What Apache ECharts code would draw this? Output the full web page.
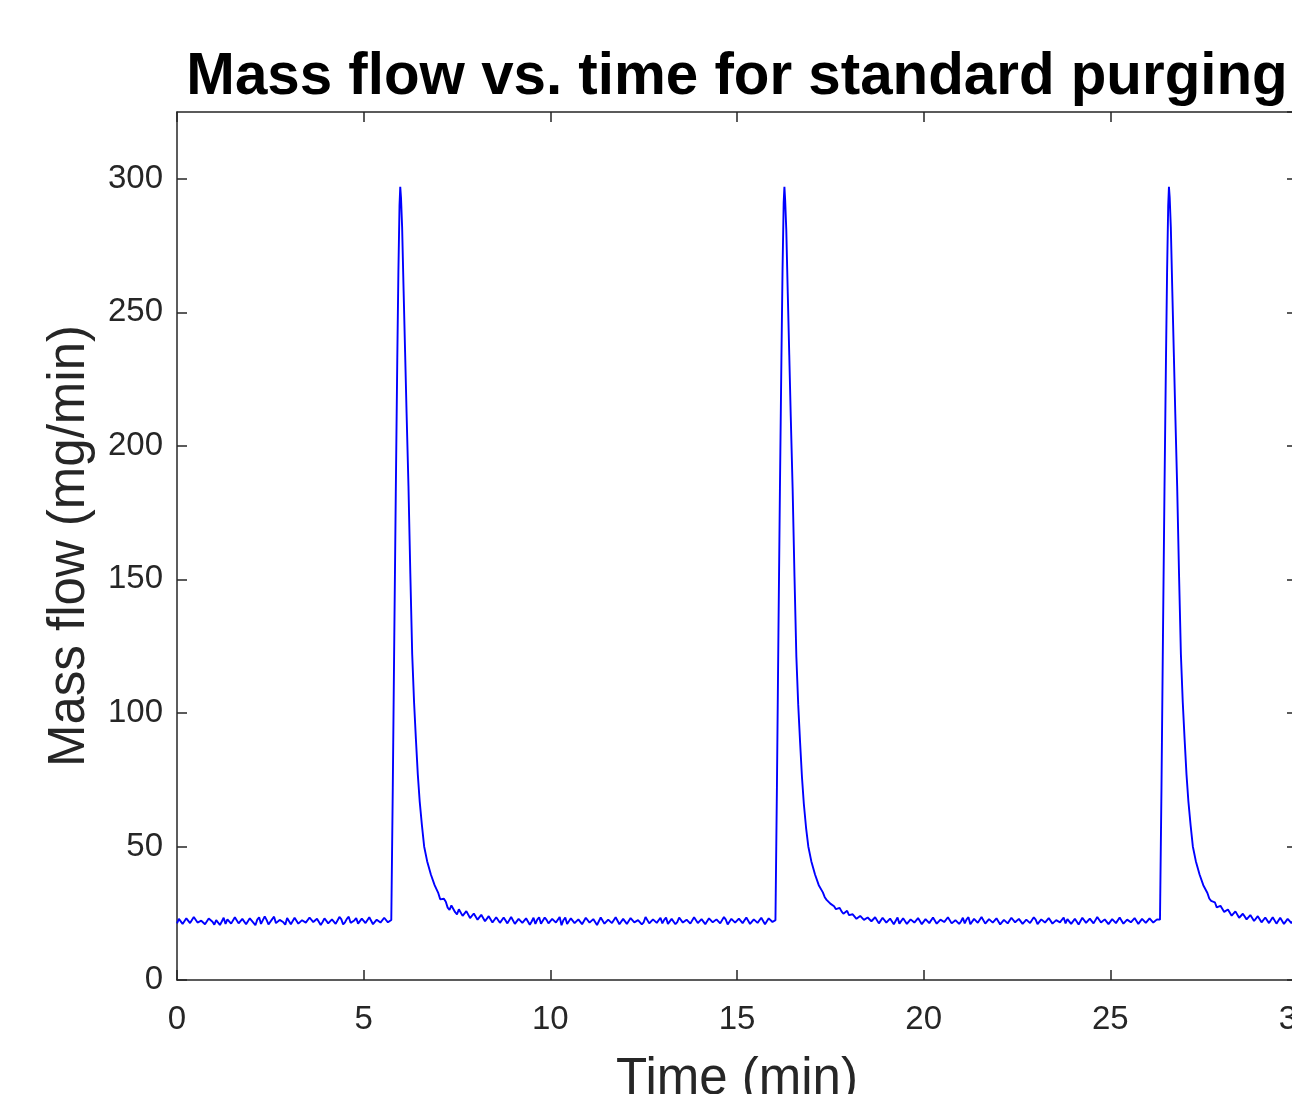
<!DOCTYPE html>
<html>
<head>
<meta charset="utf-8">
<title>Mass flow vs. time</title>
<script src="https://cdn.jsdelivr.net/npm/echarts@6/dist/echarts.min.js"></script>
<style>
  html, body { margin: 0; padding: 0; background: #fff; }
  #chart { width: 1292px; height: 1094px; }
</style>
</head>
<body>
<div id="chart"></div>
<script>
// baseline segments are sampled every 0.05 min from their start time
const sampleStep = 0.05

const base0Start = 0
const base0Flow = [
  21.2, 22.9, 23.4, 21.0, 20.5, 23.1, 22.8, 21.3, 21.7, 23.6, 23.7, 21.5, 20.8, 22.2, 22.5, 20.9,
  21.4, 23.0, 23.5, 21.8, 20.7, 22.4, 23.0, 20.6, 21.9, 23.3, 21.0, 22.7, 23.4, 21.1, 21.6, 23.5,
  23.9, 21.2, 20.8, 22.9, 22.6, 20.9, 21.2, 23.1, 23.2, 21.4, 20.5, 22.6, 23.5, 21.0, 21.7, 23.8,
  22.5, 20.8, 21.0, 22.8, 23.7, 21.3, 21.4, 22.5, 23.0, 21.6, 20.7, 23.2, 22.8, 20.9, 21.6, 23.3,
  23.5, 21.1, 20.8, 22.4, 22.3, 21.5, 21.4, 23.4, 23.9, 21.7, 21.0, 22.9, 23.0, 20.6, 21.7, 23.1,
  22.6, 21.2, 20.7, 22.7, 23.4, 21.0, 21.2, 23.6, 22.8, 20.8, 21.6, 22.9, 23.7, 21.4, 21.0, 22.3,
  23.2, 21.1, 20.8, 23.0, 22.5, 21.3, 21.7, 23.5, 23.4, 20.9, 21.2, 22.6, 22.8, 21.5, 21.4, 23.3,
  23.7, 21.6, 21.9
]

const peak1Time = [5.74, 5.78, 5.82, 5.86, 5.90, 5.93, 5.96, 5.98, 6.00, 6.03, 6.07, 6.11, 6.15, 6.20, 6.25, 6.30, 6.35, 6.40, 6.45, 6.50, 6.56, 6.62, 6.70, 6.80, 6.90]
const peak1Flow = [22.5, 72, 128, 182, 232, 265, 290, 297, 293, 282, 258, 235, 212, 185, 152, 122, 104, 90, 77, 67, 58, 50, 44.5, 39.5, 35.5]

const tail1Start = 7.0
const tail1Flow = [
  32.5, 30.2, 29.5, 30.4, 29.3, 27.1, 26.3, 27.9, 27.6, 25.4, 24.6, 26.5, 26.2, 24.0, 23.3, 25.8,
  25.5, 23.2, 22.7, 24.9, 24.7, 22.6, 22.1, 24.4, 24.3, 22.0, 21.7, 23.9, 23.9, 21.5, 21.3, 23.5,
  23.6, 21.4, 21.1, 23.4, 23.3, 21.2, 20.9, 23.6, 23.3, 21.0,
  21.2, 22.9, 23.2, 21.4, 20.8, 23.1, 22.6, 20.7, 21.9, 23.3, 21.0, 22.6, 23.5, 21.1, 21.6, 23.4,
  22.5, 21.2, 20.8, 22.9, 23.0, 21.5, 21.7, 23.6, 20.5, 22.4, 23.4, 21.0, 21.4, 23.1, 22.8, 21.3,
  20.8, 22.7, 22.3, 20.9, 21.6, 23.3, 23.7, 21.5, 21.0, 22.8, 22.5, 20.6, 21.2, 23.4, 23.2, 21.1,
  20.7, 22.6, 22.1, 21.3, 21.7, 23.5, 23.0, 20.9, 20.8, 22.9, 22.6, 21.0, 21.4, 23.2, 23.5, 21.6,
  21.0, 22.4, 22.3, 20.8, 21.6, 23.6, 23.0, 21.2, 20.7, 22.7, 22.8, 21.4, 21.9, 23.3, 21.2, 22.5,
  23.4, 21.0, 21.0, 22.9, 22.5, 20.9, 21.7, 23.4, 23.2, 21.5, 20.8, 22.6, 22.8, 21.1, 21.4, 23.5,
  23.5, 21.3, 21.2, 22.8, 22.6, 20.9, 21.6, 23.1, 23.7, 21.6, 21.0, 22.7, 23.0, 21.2, 21.7, 23.6,
  22.6, 20.8, 21.2, 22.9, 23.4, 21.5, 21.4, 23.0, 22.8, 21.3, 21.7, 23.4, 23.7, 21.0, 21.2, 22.7,
  23.2, 21.4, 21.6, 23.3, 22.6, 20.9, 21.4, 23.1, 23.5, 21.7, 22.1
]

const peak2Time = [16.03, 16.07, 16.11, 16.15, 16.19, 16.22, 16.25, 16.27, 16.29, 16.32, 16.36, 16.40, 16.44, 16.49, 16.54, 16.59, 16.64, 16.69, 16.74, 16.79, 16.85, 16.91, 16.99, 17.09, 17.19]
const peak2Flow = [22.4, 73, 130, 184, 233, 266, 291, 297, 292, 281, 257, 234, 211, 184, 151, 121, 103, 89, 76, 66, 57, 50, 44.5, 39.5, 35.5]

const tail2Start = 17.3
const tail2Flow = [
  32.8, 31.0, 30.0, 29.7, 28.6, 28.4, 27.6, 26.5, 26.6, 27.0, 25.7, 24.8, 25.3, 25.9, 24.3, 23.6,
  24.6, 24.9, 22.9, 23.3, 24.0, 24.3, 22.5, 22.0, 23.4, 23.8, 22.0, 21.6, 23.5, 23.2, 21.2, 21.9,
  23.3, 23.6, 21.5, 21.3, 23.0, 23.3, 20.9, 21.5, 23.4, 21.1,
  21.4, 23.1, 22.8, 21.0, 20.8, 22.7, 23.4, 21.5, 21.7, 23.2, 22.5, 20.9, 21.0, 22.8, 23.0, 21.3,
  21.6, 23.4, 23.7, 21.1, 20.8, 22.6, 22.3, 21.7, 21.4, 23.5, 23.2, 21.2, 20.7, 22.4, 22.8, 21.0,
  21.9, 23.3, 21.2, 22.7, 23.5, 20.9, 21.0, 22.9, 22.5, 21.4, 21.6, 23.6, 23.0, 21.1, 20.8, 22.8,
  22.6, 21.5, 21.7, 23.1, 23.4, 20.8, 21.0, 22.5, 22.3, 21.2, 21.4, 23.3, 23.7, 21.6, 21.2, 22.9,
  22.8, 21.0, 20.7, 22.6, 23.2, 21.3, 21.7, 23.5, 22.6, 20.9, 21.0, 22.7, 23.4, 21.5, 21.4, 23.2,
  22.5, 21.1, 20.8, 22.4, 23.0, 21.6, 21.9, 23.4, 21.2, 22.8, 23.5, 21.0, 21.6, 22.9, 22.6, 20.8,
  21.0, 23.3, 23.2, 21.4, 21.2, 23.0, 22.8, 21.2, 21.7, 23.6, 23.9, 21.5, 21.4, 22.7, 23.0, 20.9,
  21.0, 22.8, 22.6, 21.3, 21.7, 23.4, 23.4, 21.1, 21.2, 22.6, 22.8, 21.6, 21.6, 23.2, 23.5, 21.0,
  21.4, 22.9, 22.6, 21.4, 21.7, 23.1, 23.4, 21.5, 21.2, 22.7, 22.3
]

const peak3Time = [26.33, 26.37, 26.41, 26.45, 26.49, 26.52, 26.55, 26.57, 26.59, 26.62, 26.66, 26.70, 26.74, 26.79, 26.84, 26.89, 26.94, 26.99, 27.04, 27.09, 27.15, 27.21, 27.29, 27.39, 27.49]
const peak3Flow = [22.6, 72, 129, 183, 232, 265, 290, 297, 293, 282, 258, 235, 212, 185, 152, 122, 104, 90, 77, 67, 58, 50, 44.5, 39.5, 35.5]

const tail3Start = 27.6
const tail3Flow = [
  32.6, 30.5, 29.6, 30.1, 29.1, 27.2, 26.5, 27.8, 27.4, 25.5, 24.8, 26.4, 26.0, 24.1, 23.4, 25.7,
  25.4, 23.3, 22.8, 24.8, 24.6, 22.7, 22.3, 24.3, 24.1, 22.1, 21.9, 23.9, 23.7, 21.6, 21.3, 23.4,
  23.5, 21.3, 21.2, 23.5, 23.2, 21.1, 20.9, 23.3, 23.2, 21.0, 21.2, 22.9, 22.8, 21.3, 21.4, 23.2,
  23.0
]

const xTicks = [0, 5, 10, 15, 20, 25, 30]
const yTicks = [0, 50, 100, 150, 200, 250, 300]
const yMax = 325

function stepped(start, vals) {
  return vals.map((v, i) => [+(start + i * sampleStep).toFixed(3), v])
}
function paired(ts, vs) {
  return ts.map((t, i) => [t, vs[i]])
}

const flowData = [].concat(
  stepped(base0Start, base0Flow),
  paired(peak1Time, peak1Flow),
  stepped(tail1Start, tail1Flow),
  paired(peak2Time, peak2Flow),
  stepped(tail2Start, tail2Flow),
  paired(peak3Time, peak3Flow),
  stepped(tail3Start, tail3Flow)
)

const axisColor = '#262626'
const fontFamily = '"Liberation Sans", Arial, Helvetica, sans-serif'

const xBase = {
  type: 'value',
  min: xTicks[0],
  max: xTicks[xTicks.length - 1],
  interval: xTicks[1] - xTicks[0],
  splitLine: { show: false },
  axisLine: { show: true, onZero: false, lineStyle: { color: axisColor, width: 1.5 } },
  axisTick: { show: true, inside: true, length: 10, lineStyle: { color: axisColor, width: 1.5 } }
}
const yBase = {
  type: 'value',
  min: yTicks[0],
  max: yMax,
  interval: yTicks[1] - yTicks[0],
  splitLine: { show: false },
  axisLine: { show: true, onZero: false, lineStyle: { color: axisColor, width: 1.5 } },
  axisTick: { show: true, inside: true, length: 10, lineStyle: { color: axisColor, width: 1.5 } }
}

const chart = echarts.init(document.getElementById('chart'))
chart.setOption({
  animation: false,
  backgroundColor: '#fff',
  title: {
    text: 'Mass flow vs. time for standard purging',
    left: 732,
    textAlign: 'center',
    top: 44,
    textStyle: { fontFamily: fontFamily, fontSize: 58.3, fontWeight: 'bold', color: '#000' }
  },
  grid: { left: 177, top: 112, width: 1120, height: 868, containLabel: false, outerBoundsMode: 'none' },
  xAxis: [
    Object.assign({}, xBase, {
      position: 'bottom',
      name: 'Time (min)',
      nameLocation: 'middle',
      nameGap: 74,
      nameTextStyle: { fontFamily: fontFamily, fontSize: 51, color: axisColor },
      axisLabel: { show: true, margin: 23, fontFamily: fontFamily, fontSize: 33, color: axisColor }
    }),
    Object.assign({}, xBase, { position: 'top', axisLabel: { show: false } })
  ],
  yAxis: [
    Object.assign({}, yBase, {
      position: 'left',
      name: 'Mass flow (mg/min)',
      nameLocation: 'middle',
      nameGap: 82,
      nameTextStyle: { fontFamily: fontFamily, fontSize: 51, color: axisColor },
      axisLabel: { show: true, margin: 14, padding: [5, 0, 0, 0], showMaxLabel: false, fontFamily: fontFamily, fontSize: 33, color: axisColor }
    }),
    Object.assign({}, yBase, { position: 'right', axisLabel: { show: false } })
  ],
  series: [{
    type: 'line',
    data: flowData,
    showSymbol: false,
    symbol: 'none',
    sampling: null,
    lineStyle: { color: '#0000ff', width: 1.9 },
    clip: true
  }]
})
</script>
</body>
</html>
